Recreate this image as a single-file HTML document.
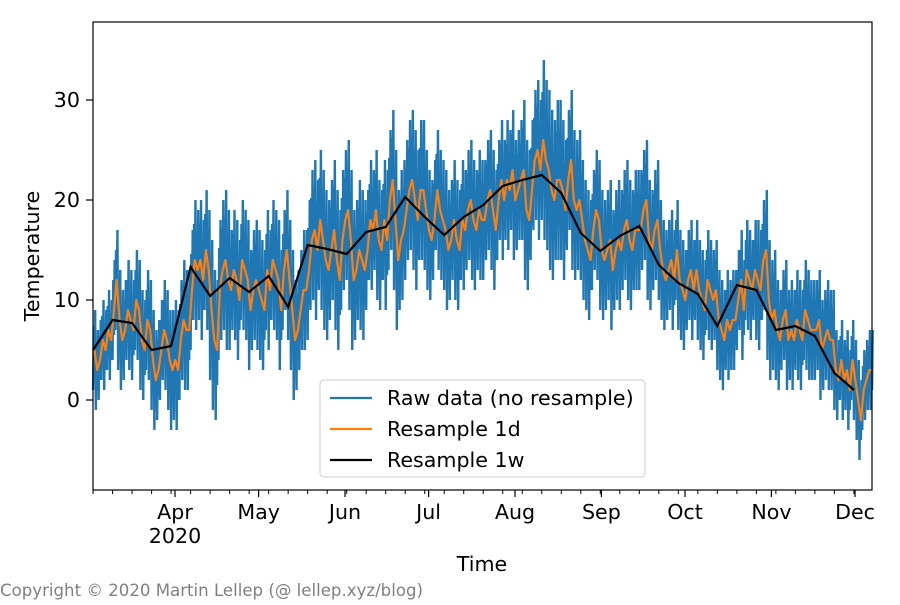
<!DOCTYPE html>
<html><head><meta charset="utf-8"><style>
body{margin:0;background:#fff;}
svg text{font-family:"DejaVu Sans","Liberation Sans",sans-serif;}
</style></head><body>
<svg id="chart" width="900" height="600" xmlns="http://www.w3.org/2000/svg">
<rect width="900" height="600" fill="#fff"/>
<g id="plot"></g>
<g id="axes"></g>
<rect x="93" y="22" width="779" height="468" fill="none" stroke="#000" stroke-width="1.2"/>
<g>
<rect x="320" y="380" width="325" height="97" rx="4" fill="#fff" fill-opacity="0.85" stroke="#ccc"/>
<line x1="330" y1="398" x2="372" y2="398" stroke="#1f77b4" stroke-width="2.2"/>
<text x="387" y="405" font-size="20.6">Raw data (no resample)</text>
<line x1="330" y1="429" x2="372" y2="429" stroke="#ff7f0e" stroke-width="2.2"/>
<text x="387" y="436" font-size="20.6">Resample 1d</text>
<line x1="330" y1="460" x2="372" y2="460" stroke="#000" stroke-width="2.2"/>
<text x="387" y="467" font-size="20.6">Resample 1w</text>
</g>
<text transform="translate(39,256) rotate(-90)" text-anchor="middle" font-size="20.6">Temperature</text>
<text x="482" y="571" text-anchor="middle" font-size="20.6">Time</text>
<text x="0" y="596" font-size="16.6" fill="#808080">Copyright © 2020 Martin Lellep (@ lellep.xyz/blog)</text>
</svg>
<script>
const weeklyValues=[5.0,8.0,7.7,5.0,5.4,13.3,10.4,12.2,10.8,12.4,9.3,15.5,15.1,14.6,16.8,17.3,20.3,18.3,16.5,18.3,19.5,21.4,22.0,22.5,20.7,16.7,14.9,16.4,17.4,13.5,11.7,10.6,7.4,11.5,11.0,7.0,7.4,6.4,2.7,1.0];
const dailyValues=[5,3,4,6,5,7,6, 9,12,8,6,7,9,8, 7,10,9,6,5,8,7, 4,2,3,5,7,6,4, 3,4,3,6,8,7,7,
11,14,13,14,12,15,13, 9,6,5,11,13,14,12, 11,13,12,10,14,13,12, 9,11,12,11,10,9,13, 11,14,13,12,9,13,15,
12,9,6,7,9,11,11, 13,16,17,15,18,16,14, 13,15,17,14,12,16,18, 19,16,12,13,15,14,13, 15,18,17,19,16,15,18,
16,20,22,18,14,16,17, 19,21,22,20,18,21,21, 19,17,16,18,21,19,18, 17,15,16,18,16,15,18, 17,19,20,18,17,19,18,
18,20,21,19,17,20,22, 20,22,21,23,20,21,22, 23,19,18,21,24,25,23, 26,24,23,21,20,22,22, 21,19,22,24,20,19,20,
18,16,15,14,17,19,18, 15,14,15,16,13,15,16, 15,17,18,16,15,17,17, 17,19,20,16,15,17,18, 15,13,12,13,14,12,15,
12,11,10,12,13,11,13, 11,10,9,12,11,10,11, 8,7,6,8,7,8,8, 10,12,9,13,12,11,13, 12,11,14,15,10,8,9,
7,6,8,9,6,7,6, 8,7,6,9,8,7,7, 7,8,5,6,7,6,6, 3,2,4,2,3,1,4, 2,0,-2,1,2,3,3];
const rawAmplitude=[4,5,5,5,6,6,7,6,6,6,6,7,7,7,6,7,7,6,6,6,6,6,7,8,7,6,6,6,6,5,5,5,5,5,6,5,5,5,4,4];
const yTicks=[0,10,20,30];
const monthLabels=["Apr","May","Jun","Jul","Aug","Sep","Oct","Nov","Dec"];
const monthDays=[31,61,92,122,153,184,214,245,275];
const startDay=1.6;
const NS="http://www.w3.org/2000/svg";
function xs(d){return 88.6+d*2.787;}
function ys(v){return 400-v*10;}
const plot=document.getElementById('plot'),axes=document.getElementById('axes');
function mk(tag,attrs,parent){const e=document.createElementNS(NS,tag);for(const k in attrs)e.setAttribute(k,attrs[k]);parent.appendChild(e);return e;}
let rp=[];
dailyValues.forEach((v,i)=>{const a=rawAmplitude[Math.floor(i/7)];const d=startDay+i;
rp.push(xs(d)+','+ys(v-a));rp.push(xs(d+0.25)+','+ys(v+a*0.6));
rp.push(xs(d+0.5)+','+ys(v-a*0.5));rp.push(xs(d+0.75)+','+ys(v+a));});
let raw=mk('polyline',{points:rp.join(' '),fill:'none',stroke:'#1f77b4','stroke-width':2.4},plot);


let dp=dailyValues.map((v,i)=>xs(startDay+i+0.5)+','+ys(v));
let daily=mk('polyline',{points:dp.join(' '),fill:'none',stroke:'#ff7f0e','stroke-width':2.2,'stroke-linejoin':'round'},plot);


let wp=weeklyValues.map((v,i)=>xs(startDay+i*7)+','+ys(v));
let weekly=mk('polyline',{points:wp.join(' '),fill:'none',stroke:'#000','stroke-width':2.2},plot);


yTicks.forEach(t=>{const y=ys(t);
let l=mk('line',{x1:86,x2:93,y1:y,y2:y,stroke:'#000','stroke-width':1.2},axes);


let tx=mk('text',{x:80,y:y+7,'text-anchor':'end','font-size':20.6},axes);tx.textContent=t;

});
for(let d=startDay;d<=281;d+=7){const x=xs(d);
let l=mk('line',{x1:x,x2:x,y1:490,y2:494,stroke:'#000','stroke-width':1},axes);

}
monthDays.forEach((d,i)=>{const x=xs(d);
let l=mk('line',{x1:x,x2:x,y1:490,y2:497,stroke:'#000','stroke-width':1.2},axes);


let tx=mk('text',{x:x,y:519,'text-anchor':'middle','font-size':20.6},axes);tx.textContent=monthLabels[i];

});
let yr=mk('text',{x:xs(31),y:543,'text-anchor':'middle','font-size':20.6},axes);yr.textContent='2020';


</script>
</body></html>
